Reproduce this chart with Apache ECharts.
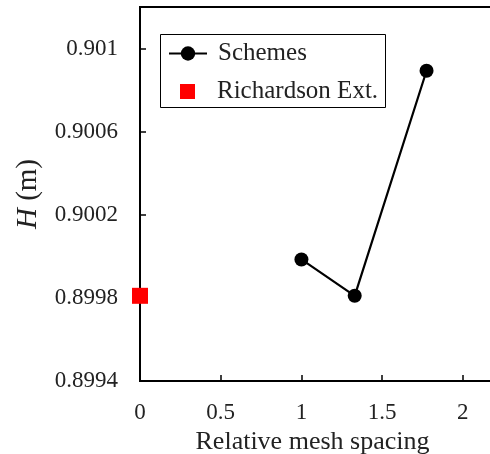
<!DOCTYPE html>
<html><head><meta charset="utf-8">
<script src="https://cdn.jsdelivr.net/npm/echarts@6/dist/echarts.min.js"></script>
<style>html,body{margin:0;padding:0;background:#fff}#c{width:490px;height:454px}</style>
</head><body><div id="c"></div>
<script>
// Relative mesh spacing vs. computed water depth H
const schemeSpacing = [1.0, 1.33, 1.775];
const schemeH = [0.899985, 0.89981, 0.900893];
const richSpacing = [0];
const richH = [0.89981];
const xTicks = [0, 0.5, 1, 1.5, 2];
const xTickLabels = ['0', '0.5', '1', '1.5', '2'];
const yTicks = [0.8994, 0.8998, 0.9002, 0.9006, 0.901];
const yTickLabels = ['0.8994', '0.8998', '0.9002', '0.9006', '0.901'];

const serif = "'Liberation Serif', 'Times New Roman', serif";
const pair = (xs, ys) => xs.map((x, i) => [x, ys[i]]);
const lookup = (vals, labels) => v => {
  let best = 0;
  vals.forEach((t, i) => { if (Math.abs(t - v) < Math.abs(vals[best] - v)) best = i; });
  return labels[best];
};

const chart = echarts.init(document.getElementById('c'), null, {renderer: 'canvas'});
chart.setOption({
  animation: false,
  backgroundColor: '#fff',
  // the frame runs past the right edge, so only top, left and bottom sides show
  grid: {left: 140, right: -10, top: 7, bottom: 73, show: true, borderColor: '#000', borderWidth: 2,
         containLabel: false, outerBoundsMode: 'none'},
  xAxis: {
    type: 'value', min: 0, max: 2.23,
    axisLine: {show: true, onZero: false, lineStyle: {color: '#000', width: 2}},
    axisTick: {show: true, inside: true, length: 6, customValues: xTicks, lineStyle: {color: '#000', width: 1.5}},
    axisLabel: {customValues: xTicks, formatter: lookup(xTicks, xTickLabels), color: '#222', fontFamily: serif, fontSize: 23, margin: 20},
    splitLine: {show: false},
    name: 'Relative mesh spacing', nameLocation: 'middle', nameGap: 46,
    nameTextStyle: {color: '#222', fontFamily: serif, fontSize: 26, padding: [0, 15, 0, 0]}
  },
  yAxis: {
    type: 'value', min: 0.8994, max: 0.9012,
    axisLine: {show: true, lineStyle: {color: '#000', width: 2}},
    axisTick: {show: true, inside: true, length: 6, customValues: yTicks, lineStyle: {color: '#000', width: 1.5}},
    axisLabel: {customValues: yTicks, formatter: lookup(yTicks, yTickLabels), color: '#222', fontFamily: serif, fontSize: 23, margin: 22},
    splitLine: {show: false},
    name: '{i|H} (m)', nameLocation: 'middle', nameGap: 97, nameRotate: 90,
    nameTextStyle: {color: '#222', fontFamily: serif, fontSize: 29,
      rich: {i: {fontStyle: 'italic', fontFamily: serif, fontSize: 29, color: '#222'}}}
  },
  legend: [
    {data: ['Schemes'], left: 168, top: 41, padding: 0, itemWidth: 38, itemHeight: 18,
     textStyle: {color: '#222', fontFamily: serif, fontSize: 25, padding: [0, 0, 0, 6]}},
    {data: ['Richardson Ext.'], left: 180, top: 79, padding: 0, itemWidth: 15, itemHeight: 15,
     textStyle: {color: '#222', fontFamily: serif, fontSize: 25, padding: [0, 0, 0, 17]}}
  ],
  graphic: [{type: 'rect', shape: {x: 160.5, y: 34.5, width: 225, height: 73},
    style: {fill: null, stroke: '#000', lineWidth: 1}, z: 10}],
  series: [
    {name: 'Schemes', type: 'line', data: pair(schemeSpacing, schemeH),
     symbol: 'circle', symbolSize: 14, itemStyle: {color: '#000'},
     lineStyle: {color: '#000', width: 2.2}, z: 5},
    {name: 'Richardson Ext.', type: 'scatter', data: pair(richSpacing, richH),
     symbol: 'rect', symbolSize: 16, itemStyle: {color: '#ff0000', opacity: 1}, clip: false, z: 6}
  ]
});
</script></body></html>
